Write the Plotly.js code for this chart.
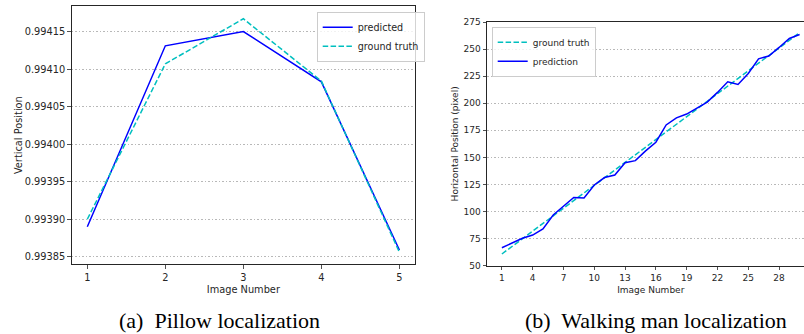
<!DOCTYPE html>
<html>
<head>
<meta charset="utf-8">
<script src="https://cdn.plot.ly/plotly-3.0.1.min.js"></script>
<style>
html, body { margin: 0; padding: 0; overflow: hidden; background: #fff; }
#chart { width: 820px; height: 334px; }
</style>
</head>
<body>
<div id="chart"></div>
<script>
// Pillow localization (a)
const pillowImages = [1, 2, 3, 4, 5];
const pillowPredicted = [0.99389, 0.994131, 0.99415, 0.994083, 0.993859];
const pillowGroundTruth = [0.99390, 0.994107, 0.994167, 0.994084, 0.993856];
const pillowYTicks = [0.99385, 0.99390, 0.99395, 0.99400, 0.99405, 0.99410, 0.99415];

// Walking man localization (b)
const walkImages = [1,2,3,4,5,6,7,8,9,10,11,12,13,14,15,16,17,18,19,20,21,22,23,24,25,26,27,28,29,30];
const walkGroundTruth = [60.8, 67.8, 74.9, 81.9, 89.0, 96.0, 103.1, 110.1, 117.2, 124.2,
  131.3, 138.3, 145.3, 152.4, 159.4, 166.5, 173.5, 180.6, 187.6, 194.7,
  201.7, 208.8, 215.8, 222.8, 229.9, 236.9, 244.0, 251.0, 258.1, 265.1];
const walkPrediction = [66.6, 71.0, 75.3, 78.3, 84.0, 96.8, 105.0, 113.0, 112.6, 124.5,
  131.4, 133.7, 145.0, 147.0, 156.0, 164.0, 180.0, 186.5, 190.0, 195.5,
  201.0, 210.0, 219.8, 217.3, 227.5, 241.0, 243.6, 251.5, 259.8, 263.5];
const walkXTicks = [1, 4, 7, 10, 13, 16, 19, 22, 25, 28];
const walkYTicks = [50, 75, 100, 125, 150, 175, 200, 225, 250, 275];

const captions = ["(a)  Pillow localization", "(b)  Walking man localization"];

const W = 820, H = 334;
const BLUE = '#0000ff', CYAN = '#00bfbf';
const DASH = '5.5px,2.4px';
const GRIDDASH = '1.5px,2px';
const tickFontL = {family: 'DejaVu Sans', size: 9.8, color: '#262626'};
const tickFontR = {family: 'DejaVu Sans', size: 9, color: '#262626'};

const traces = [
  {x: pillowImages, y: pillowPredicted, name: 'predicted', mode: 'lines',
   line: {color: BLUE, width: 1.5}, xaxis: 'x', yaxis: 'y', legend: 'legend'},
  {x: pillowImages, y: pillowGroundTruth, name: 'ground truth', mode: 'lines',
   line: {color: CYAN, width: 1.5, dash: DASH}, xaxis: 'x', yaxis: 'y', legend: 'legend'},
  {x: walkImages, y: walkGroundTruth, name: 'ground truth', mode: 'lines',
   line: {color: CYAN, width: 1.5, dash: DASH}, xaxis: 'x2', yaxis: 'y2', legend: 'legend2'},
  {x: walkImages, y: walkPrediction, name: 'prediction', mode: 'lines',
   line: {color: BLUE, width: 1.5}, xaxis: 'x2', yaxis: 'y2', legend: 'legend2'}
];

function px(v) { return v / W; }
function py(v) { return (H - v) / H; }

const axisCommon = {
  showline: true, linecolor: '#262626', linewidth: 1, mirror: true,
  ticks: 'outside', ticklen: 3.5, tickwidth: 0.8, tickcolor: '#262626',
  zeroline: false, fixedrange: true
};

const layout = {
  width: W, height: H,
  margin: {l: 0, r: 0, t: 0, b: 0},
  paper_bgcolor: '#fff', plot_bgcolor: '#fff',
  xaxis: Object.assign({}, axisCommon, {
    domain: [px(71.7), px(415)], anchor: 'y',
    range: [0.8, 5.2], tickvals: pillowImages, ticktext: pillowImages.map(String),
    showgrid: false, tickfont: tickFontL,
    title: {text: 'Image Number', font: {family: 'DejaVu Sans', size: 9.8, color: '#262626'}, standoff: 4}
  }),
  yaxis: Object.assign({}, axisCommon, {
    domain: [py(264.3), py(6)], anchor: 'x',
    range: [0.99384, 0.994184], tickvals: pillowYTicks, ticktext: pillowYTicks.map(v => v.toFixed(5)),
    showgrid: true, gridcolor: '#b0b0b0', gridwidth: 0.9, griddash: GRIDDASH, tickfont: tickFontL,
    title: {text: 'Vertical Position', font: {family: 'DejaVu Sans', size: 9.8, color: '#262626'}, standoff: 0}
  }),
  xaxis2: Object.assign({}, axisCommon, {
    domain: [px(487), px(814.5)], anchor: 'y2',
    range: [-0.45, 31.45], tickvals: walkXTicks, ticktext: walkXTicks.map(String),
    showgrid: false, tickfont: tickFontR,
    title: {text: 'Image Number', font: {family: 'DejaVu Sans', size: 9, color: '#262626'}, standoff: 4}
  }),
  yaxis2: Object.assign({}, axisCommon, {
    domain: [py(265.7), py(22)], anchor: 'x2',
    range: [50, 275], tickvals: walkYTicks, ticktext: walkYTicks.map(String),
    showgrid: true, gridcolor: '#b0b0b0', gridwidth: 0.9, griddash: GRIDDASH, tickfont: tickFontR,
    title: {text: 'Horizontal Position (pixel)', font: {family: 'DejaVu Sans', size: 9, color: '#262626'}, standoff: 3}
  }),
  legend: {
    x: px(316.7), y: py(11.7), xanchor: 'left', yanchor: 'top',
    bgcolor: 'rgba(255,255,255,0.8)', bordercolor: '#cccccc', borderwidth: 1,
    font: {family: 'DejaVu Sans', size: 9.6, color: '#262626'},
    itemwidth: 30, tracegroupgap: 0
  },
  legend2: {
    x: px(491.7), y: py(26.7), xanchor: 'left', yanchor: 'top',
    bgcolor: 'rgba(255,255,255,0.8)', bordercolor: '#cccccc', borderwidth: 1,
    font: {family: 'DejaVu Sans', size: 9, color: '#262626'},
    itemwidth: 30, tracegroupgap: 0
  },
  showlegend: true,
  annotations: [
    {text: captions[0], xref: 'paper', yref: 'paper', x: px(219), y: py(320),
     xanchor: 'center', yanchor: 'middle', showarrow: false, height: 26,
     font: {family: 'Liberation Serif', size: 22, color: '#000'}},
    {text: captions[1], xref: 'paper', yref: 'paper', x: px(656), y: py(320),
     xanchor: 'center', yanchor: 'middle', showarrow: false, height: 26,
     font: {family: 'Liberation Serif', size: 22, color: '#000'}}
  ]
};

Plotly.newPlot('chart', traces, layout, {displayModeBar: false, staticPlot: true});
</script>
</body>
</html>
